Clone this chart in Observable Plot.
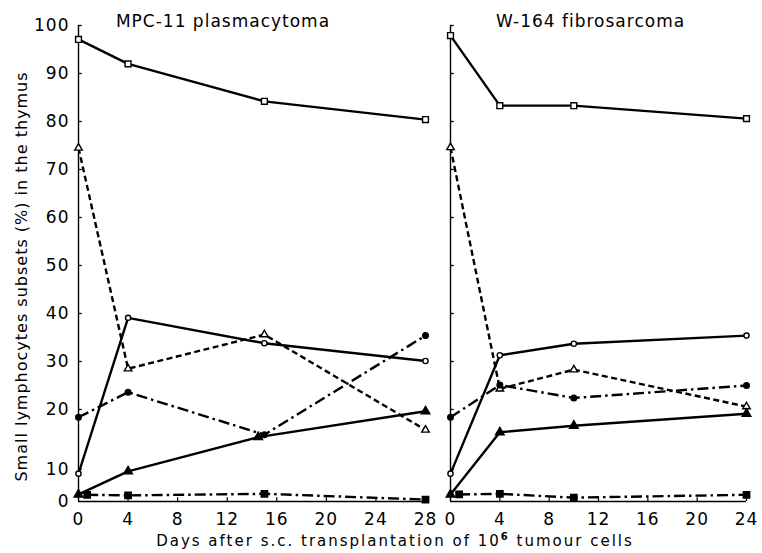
<!DOCTYPE html>
<html><head><meta charset="utf-8">
<script src="https://cdn.jsdelivr.net/npm/d3@7"></script>
<script src="https://cdn.jsdelivr.net/npm/@observablehq/plot@0.6"></script>
<style>
body{margin:0;background:#fff;}
#wrap{position:relative;width:762px;height:553px;overflow:hidden;font-family:"DejaVu Sans";background:#fff;}
#left{position:absolute;left:0;top:0;width:437px;height:553px;}
#right{position:absolute;left:437px;top:0;width:325px;height:553px;}
#xtitle{position:absolute;top:532px;left:0;width:790px;text-align:center;font-size:15px;letter-spacing:2px;color:#000;line-height:18px;}
#xtitle sup{font-size:10px;font-weight:bold;vertical-align:6px;line-height:0;}
#wrap svg text{letter-spacing:1px;}
</style></head>
<body>
<div id="wrap"><div id="left"></div><div id="right"></div>
<div id="xtitle">Days after s.c. transplantation of 10<sup>6</sup> tumour cells</div></div>
<script>
// ---- text ----
const panelTitles = ["MPC-11 plasmacytoma", "W-164 fibrosarcoma"];
const yLabel = "Small lymphocytes subsets (%) in the thymus";
// ---- ticks ----
const yTicks = [0, 10, 20, 30, 40, 50, 60, 70, 80, 90, 100];
const mpcXTicks = [0, 4, 8, 12, 16, 20, 24, 28];
const w164XTicks = [0, 4, 8, 12, 16, 20, 24];
// ---- MPC-11 plasmacytoma (days, values in %) ----
const mpcDays = [0, 4, 15, 28];
const mpcDaysFilledTriangle = [0, 4, 14.5, 28];
const mpcDaysFilledSquare = [0.7, 4, 15, 28];
const mpcOpenSquare = [97.1, 92.0, 84.2, 80.4];
const mpcOpenTriangle = [74.5, 28.5, 35.6, 16.6];
const mpcOpenCircle = [8.7, 39.1, 33.8, 30.1];
const mpcFilledCircle = [18.7, 23.6, 15.8, 35.4];
const mpcFilledTriangle = [2.2, 9.4, 15.4, 19.7];
const mpcFilledSquare = [2.1, 1.9, 2.4, 0.6];
// ---- W-164 fibrosarcoma ----
const w164Days = [0, 4, 10, 24];
const w164DaysFilledSquare = [0.7, 4, 10, 24];
const w164OpenSquare = [97.9, 83.3, 83.3, 80.6];
const w164OpenTriangle = [74.6, 24.3, 28.3, 20.6];
const w164OpenCircle = [8.7, 31.3, 33.7, 35.4];
const w164FilledCircle = [18.7, 25.1, 22.4, 25.0];
const w164FilledTriangle = [2.2, 16.2, 17.3, 19.3];
const w164FilledSquare = [2.2, 2.4, 1.2, 2.1];

// ---- styles (not data) ----
const styles = {
  openSquare:     {symbol: "square",   fill: "white", r: 3.3, dash: null},
  openTriangle:   {symbol: "triangle", fill: "white", r: 2.8, dash: "6,3.5"},
  openCircle:     {symbol: "circle",   fill: "white", r: 2.6, dash: null},
  filledCircle:   {symbol: "circle",   fill: "black", r: 2.8, dash: "11,4,2.5,4"},
  filledTriangle: {symbol: "triangle", fill: "black", r: 3.2, dash: null},
  filledSquare:   {symbol: "square",   fill: "black", r: 3.6, dash: "11,4,2.5,4"}
};

function zip(xs, ys) { return xs.map((x, i) => ({x, y: ys[i]})); }

function seriesMarks(list) {
  const lines = [], dots = [];
  for (const s of list) {
    const st = styles[s.key];
    const data = zip(s.days, s.values);
    lines.push(Plot.line(data, {x: "x", y: "y", stroke: "black", strokeWidth: 2.4,
      strokeDasharray: st.dash, strokeLinecap: "butt"}));
    dots.push(Plot.dot(data, {x: "x", y: "y", symbol: st.symbol, r: st.r, fill: st.fill,
      stroke: "black", strokeWidth: 1.4}));
  }
  return [...lines, ...dots];
}

const yScale = {type: "linear", domain: [0, 10, 20, 100], range: [501, 469, 409, 25], axis: null};
const font = {fontFamily: "DejaVu Sans", fontSize: "16px", color: "black", background: "white", overflow: "visible"};

function panel({width, marginLeft, marginRight, xMax, xTicks, title, titleDx, series, showYLabels}) {
  const marks = [
    Plot.ruleX([0], {y1: 0, y2: 100, stroke: "black", strokeWidth: 1.4}),
    Plot.ruleY([0], {x1: 0, x2: xMax, stroke: "black", strokeWidth: 1.4}),
    Plot.ruleY(yTicks.filter(d => d > 0), {x1: 0, x2: 0.3, stroke: "black", strokeWidth: 1.3}),
    Plot.ruleX(xTicks.filter(d => d > 0), {y1: 0, y2: 1.2, stroke: "black", strokeWidth: 1.2}),
    Plot.axisX({ticks: xTicks, tickSize: 0, tickPadding: 11, label: null, fontSize: 17}),
    Plot.text([title], {frameAnchor: "top", dx: titleDx, dy: 1, lineAnchor: "bottom", fontSize: 17}),
    ...seriesMarks(series)
  ];
  if (showYLabels) {
    marks.push(Plot.axisY({ticks: yTicks, tickSize: 0, tickPadding: 9, label: null, fontSize: 17}));
    marks.push(Plot.text([yLabel], {frameAnchor: "left", textAnchor: "middle", lineAnchor: "middle",
      rotate: -90, dx: -57, dy: 13, fontSize: 16}));
  }
  return Plot.plot({
    width, height: 553, marginLeft, marginRight, marginTop: 25, marginBottom: 52,
    x: {domain: [0, xMax], axis: null},
    y: yScale,
    style: font,
    marks
  });
}

document.getElementById("left").appendChild(panel({
  width: 437, marginLeft: 78, marginRight: 12, xMax: 28, xTicks: mpcXTicks,
  title: panelTitles[0], titleDx: -29, showYLabels: true,
  series: [
    {key: "openSquare", days: mpcDays, values: mpcOpenSquare},
    {key: "openTriangle", days: mpcDays, values: mpcOpenTriangle},
    {key: "openCircle", days: mpcDays, values: mpcOpenCircle},
    {key: "filledCircle", days: mpcDays, values: mpcFilledCircle},
    {key: "filledTriangle", days: mpcDaysFilledTriangle, values: mpcFilledTriangle},
    {key: "filledSquare", days: mpcDaysFilledSquare, values: mpcFilledSquare}
  ]
}));

document.getElementById("right").appendChild(panel({
  width: 325, marginLeft: 13, marginRight: 16, xMax: 24, xTicks: w164XTicks,
  title: panelTitles[1], titleDx: -8, showYLabels: false,
  series: [
    {key: "openSquare", days: w164Days, values: w164OpenSquare},
    {key: "openTriangle", days: w164Days, values: w164OpenTriangle},
    {key: "openCircle", days: w164Days, values: w164OpenCircle},
    {key: "filledCircle", days: w164Days, values: w164FilledCircle},
    {key: "filledTriangle", days: w164Days, values: w164FilledTriangle},
    {key: "filledSquare", days: w164DaysFilledSquare, values: w164FilledSquare}
  ]
}));
</script>
</body></html>
